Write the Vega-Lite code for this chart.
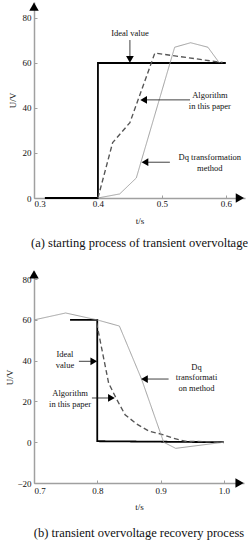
{
  "$schema": "https://vega.github.io/schema/vega-lite/v6.json",
  "background": "white",
  "padding": {"left": 5, "top": 2, "right": 0, "bottom": 0},
  "spacing": 20,
  "config": {
    "view": {"stroke": null},
    "font": "Liberation Serif",
    "axis": {
      "grid": false,
      "domainColor": "#a0a0a0",
      "domainWidth": 1.5,
      "tickColor": "#a0a0a0",
      "tickSize": -3,
      "labelFont": "Liberation Serif",
      "labelFontSize": 9,
      "labelColor": "#111",
      "titleFont": "Liberation Serif",
      "titleFontSize": 9,
      "titleFontWeight": "normal",
      "titleColor": "#111"
    },
    "title": {"font": "Liberation Serif", "fontSize": 12.5, "fontWeight": "normal", "color": "#111"}
  },
  "datasets": {
    "topLines": [
      {"i": 1, "series": "ideal", "t": 0.317, "v": 0},
      {"i": 2, "series": "ideal", "t": 0.4, "v": 0},
      {"i": 3, "series": "ideal", "t": 0.4, "v": 60},
      {"i": 4, "series": "ideal", "t": 0.6, "v": 60},
      {"i": 1, "series": "alg", "t": 0.4, "v": 0},
      {"i": 2, "series": "alg", "t": 0.423, "v": 24.6},
      {"i": 3, "series": "alg", "t": 0.45, "v": 33.5},
      {"i": 4, "series": "alg", "t": 0.489, "v": 64.4},
      {"i": 5, "series": "alg", "t": 0.595, "v": 60.2},
      {"i": 1, "series": "dq", "t": 0.4, "v": 0},
      {"i": 2, "series": "dq", "t": 0.434, "v": 1.8},
      {"i": 3, "series": "dq", "t": 0.46, "v": 8.9},
      {"i": 4, "series": "dq", "t": 0.52, "v": 67},
      {"i": 5, "series": "dq", "t": 0.545, "v": 69},
      {"i": 6, "series": "dq", "t": 0.572, "v": 67},
      {"i": 7, "series": "dq", "t": 0.59, "v": 60}
    ],
    "topText": [
      {"t": 0.45, "v": 73.3, "label": "Ideal value"},
      {"t": 0.575, "v": 45.8, "label": "Algorithm"},
      {"t": 0.575, "v": 40.9, "label": "in this paper"},
      {"t": 0.575, "v": 18.2, "label": "Dq transformation"},
      {"t": 0.575, "v": 13.3, "label": "method"}
    ],
    "topRules": [
      {"t1": 0.45, "v1": 70.2, "t2": 0.45, "v2": 63},
      {"t1": 0.474, "v1": 43.6, "t2": 0.544, "v2": 43.6},
      {"t1": 0.476, "v1": 15.9, "t2": 0.5125, "v2": 15.9}
    ],
    "topHeads": [
      {"t": 0.45, "v": 61.6, "dir": "down", "kind": "note"},
      {"t": 0.4715, "v": 43.6, "dir": "left", "kind": "note"},
      {"t": 0.4735, "v": 15.9, "dir": "left", "kind": "note"},
      {"t": 0.3, "v": 85.0, "dir": "up", "kind": "axis"},
      {"t": 0.622, "v": 0, "dir": "right", "kind": "axis"}
    ],
    "botLines": [
      {"i": 1, "series": "ideal", "t": 0.757, "v": 60},
      {"i": 2, "series": "ideal", "t": 0.8, "v": 60},
      {"i": 3, "series": "ideal", "t": 0.8, "v": 0.5},
      {"i": 4, "series": "ideal", "t": 1.0, "v": 0},
      {"i": 1, "series": "alg", "t": 0.799, "v": 58.5},
      {"i": 2, "series": "alg", "t": 0.818, "v": 29},
      {"i": 3, "series": "alg", "t": 0.83, "v": 21.5},
      {"i": 4, "series": "alg", "t": 0.844, "v": 13.5},
      {"i": 5, "series": "alg", "t": 0.862, "v": 9},
      {"i": 6, "series": "alg", "t": 0.882, "v": 5.4},
      {"i": 7, "series": "alg", "t": 0.902, "v": 3.9},
      {"i": 8, "series": "alg", "t": 0.92, "v": 2},
      {"i": 9, "series": "alg", "t": 0.939, "v": 0.5},
      {"i": 10, "series": "alg", "t": 1.0, "v": 0},
      {"i": 1, "series": "dq", "t": 0.7, "v": 60},
      {"i": 2, "series": "dq", "t": 0.75, "v": 63.4},
      {"i": 3, "series": "dq", "t": 0.8, "v": 60},
      {"i": 4, "series": "dq", "t": 0.835, "v": 57},
      {"i": 5, "series": "dq", "t": 0.87, "v": 31},
      {"i": 6, "series": "dq", "t": 0.905, "v": 0},
      {"i": 7, "series": "dq", "t": 0.924, "v": -3},
      {"i": 8, "series": "dq", "t": 1.0, "v": 0}
    ],
    "botText": [
      {"t": 0.749, "v": 43.3, "label": "Ideal"},
      {"t": 0.749, "v": 37.9, "label": "value"},
      {"t": 0.757, "v": 24.2, "label": "Algorithm"},
      {"t": 0.757, "v": 18.8, "label": "in this paper"},
      {"t": 0.957, "v": 36.9, "label": "Dq"},
      {"t": 0.957, "v": 32, "label": "transformati"},
      {"t": 0.957, "v": 26.6, "label": "on method"}
    ],
    "botRules": [
      {"t1": 0.771, "v1": 39.7, "t2": 0.792, "v2": 39.7},
      {"t1": 0.7916, "v1": 21.7, "t2": 0.82, "v2": 21.7},
      {"t1": 0.876, "v1": 31, "t2": 0.9128, "v2": 31}
    ],
    "botHeads": [
      {"t": 0.7945, "v": 39.7, "dir": "right", "kind": "note"},
      {"t": 0.8224, "v": 21.7, "dir": "right", "kind": "note"},
      {"t": 0.8746, "v": 31, "dir": "left", "kind": "note"},
      {"t": 0.7, "v": 82.3, "dir": "up", "kind": "axis"},
      {"t": 1.025, "v": -20, "dir": "right", "kind": "axis"}
    ]
  },
  "vconcat": [
    {
      "width": 211,
      "height": 196,
      "title": {"text": "(a) starting process of transient overvoltage", "orient": "bottom", "anchor": "middle", "offset": 12},
      "encoding": {
        "x": {"field": "t", "type": "quantitative", "scale": {"domain": [0.3, 0.63], "nice": false, "zero": false},
              "axis": {"values": [0.3, 0.4, 0.5, 0.6], "format": ".1f", "title": "t/s", "labelPadding": 4, "titlePadding": 8}},
        "y": {"field": "v", "type": "quantitative", "scale": {"domain": [0, 87.1], "nice": false, "zero": false},
              "axis": {"values": [0, 20, 40, 60, 80], "title": "U/V", "labelPadding": 6, "titlePadding": 5}}
      },
      "layer": [
        {
          "data": {"name": "topLines"},
          "mark": {"type": "line"},
          "encoding": {
            "detail": {"field": "series"},
            "order": {"field": "i", "type": "quantitative"},
            "color": {"field": "series", "type": "nominal", "scale": {"domain": ["ideal", "alg", "dq"], "range": ["#000000", "#555555", "#969696"]}, "legend": null},
            "strokeDash": {"field": "series", "type": "nominal", "scale": {"domain": ["ideal", "alg", "dq"], "range": [[1, 0], [5, 3], [1, 0]]}, "legend": null},
            "strokeWidth": {"field": "series", "type": "nominal", "scale": {"domain": ["ideal", "alg", "dq"], "range": [1.8, 0.9, 0.9]}, "legend": null}
          }
        },
        {
          "data": {"name": "topRules"},
          "mark": {"type": "rule", "color": "#111", "strokeWidth": 0.8},
          "encoding": {
            "x": {"field": "t1", "type": "quantitative"},
            "x2": {"field": "t2"},
            "y": {"field": "v1", "type": "quantitative"},
            "y2": {"field": "v2"}
          }
        },
        {
          "data": {"name": "topHeads"},
          "transform": [{"filter": "datum.dir === 'down'"}],
          "mark": {"type": "point", "shape": "triangle-down", "filled": true, "color": "#000", "size": 60, "opacity": 1}
        },
        {
          "data": {"name": "topHeads"},
          "transform": [{"filter": "datum.dir === 'left'"}],
          "mark": {"type": "point", "shape": "triangle-left", "filled": true, "color": "#000", "size": 60, "opacity": 1}
        },
        {
          "data": {"name": "topHeads"},
          "transform": [{"filter": "datum.dir === 'up'"}],
          "mark": {"type": "point", "shape": "triangle-up", "filled": true, "color": "#000", "size": 90, "opacity": 1}
        },
        {
          "data": {"name": "topHeads"},
          "transform": [{"filter": "datum.dir === 'right'"}],
          "mark": {"type": "point", "shape": "triangle-right", "filled": true, "color": "#000", "size": 90, "opacity": 1}
        },
        {
          "data": {"name": "topText"},
          "mark": {"type": "text", "font": "Liberation Serif", "fontSize": 8.5, "color": "#111", "align": "center", "baseline": "middle"},
          "encoding": {"text": {"field": "label"}}
        }
      ]
    },
    {
      "width": 210,
      "height": 212,
      "title": {"text": "(b) transient overvoltage recovery process", "orient": "bottom", "anchor": "middle", "offset": 16},
      "encoding": {
        "x": {"field": "t", "type": "quantitative", "scale": {"domain": [0.7, 1.032], "nice": false, "zero": false},
              "axis": {"values": [0.7, 0.8, 0.9, 1.0], "format": ".1f", "title": "t/s", "labelPadding": 6, "titlePadding": 7}},
        "y": {"field": "v", "type": "quantitative", "scale": {"domain": [-20, 84], "nice": false, "zero": false},
              "axis": {"values": [-20, 0, 20, 40, 60, 80], "title": "U/V", "labelPadding": 6, "titlePadding": 2}}
      },
      "layer": [
        {
          "data": {"name": "botLines"},
          "mark": {"type": "line"},
          "encoding": {
            "detail": {"field": "series"},
            "order": {"field": "i", "type": "quantitative"},
            "color": {"field": "series", "type": "nominal", "scale": {"domain": ["ideal", "alg", "dq"], "range": ["#000000", "#555555", "#969696"]}, "legend": null},
            "strokeDash": {"field": "series", "type": "nominal", "scale": {"domain": ["ideal", "alg", "dq"], "range": [[1, 0], [5, 3], [1, 0]]}, "legend": null},
            "strokeWidth": {"field": "series", "type": "nominal", "scale": {"domain": ["ideal", "alg", "dq"], "range": [1.8, 0.9, 0.9]}, "legend": null}
          }
        },
        {
          "data": {"name": "botRules"},
          "mark": {"type": "rule", "color": "#111", "strokeWidth": 0.8},
          "encoding": {
            "x": {"field": "t1", "type": "quantitative"},
            "x2": {"field": "t2"},
            "y": {"field": "v1", "type": "quantitative"},
            "y2": {"field": "v2"}
          }
        },
        {
          "data": {"name": "botHeads"},
          "transform": [{"filter": "datum.dir === 'left'"}],
          "mark": {"type": "point", "shape": "triangle-left", "filled": true, "color": "#000", "size": 60, "opacity": 1}
        },
        {
          "data": {"name": "botHeads"},
          "transform": [{"filter": "datum.dir === 'right' && datum.kind === 'note'"}],
          "mark": {"type": "point", "shape": "triangle-right", "filled": true, "color": "#000", "size": 60, "opacity": 1}
        },
        {
          "data": {"name": "botHeads"},
          "transform": [{"filter": "datum.dir === 'up'"}],
          "mark": {"type": "point", "shape": "triangle-up", "filled": true, "color": "#000", "size": 90, "opacity": 1}
        },
        {
          "data": {"name": "botHeads"},
          "transform": [{"filter": "datum.dir === 'right' && datum.kind === 'axis'"}],
          "mark": {"type": "point", "shape": "triangle-right", "filled": true, "color": "#000", "size": 90, "opacity": 1}
        },
        {
          "data": {"name": "botText"},
          "mark": {"type": "text", "font": "Liberation Serif", "fontSize": 8.5, "color": "#111", "align": "center", "baseline": "middle"},
          "encoding": {"text": {"field": "label"}}
        }
      ]
    }
  ]
}
